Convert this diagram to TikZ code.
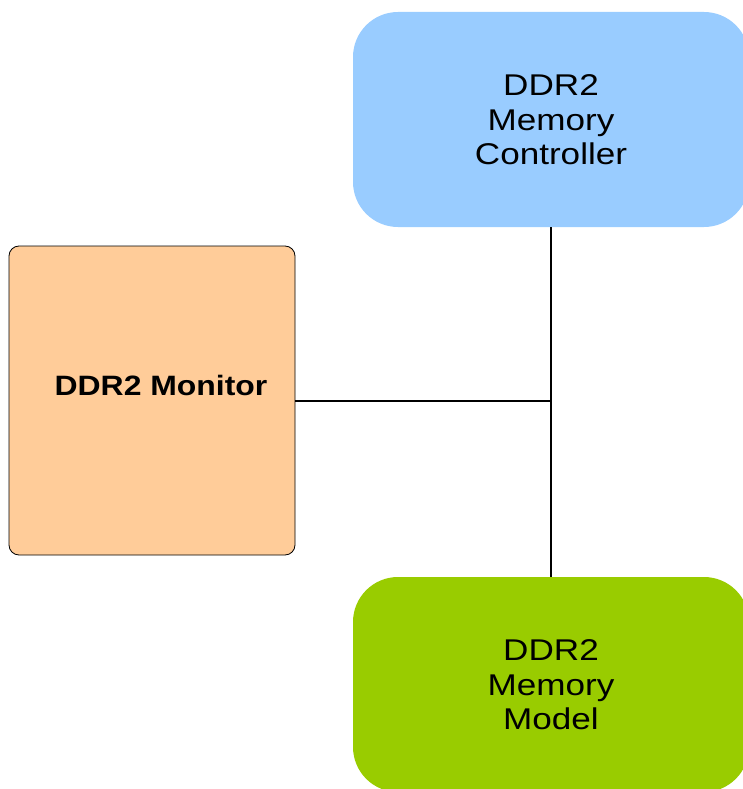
\documentclass[tikz,border=0pt]{standalone}
\usepackage{fontspec}
\setmainfont{Liberation Sans}
\usepackage{graphicx}
\usepackage{tikz}
\usetikzlibrary{positioning}

\definecolor{ctrlblue}{HTML}{99CCFF}
\definecolor{monorange}{HTML}{FFCC99}
\definecolor{modelgreen}{HTML}{99CC00}

\newcommand{\widetext}[2]{\raisebox{-4pt}[\height][\depth]{\scalebox{#1}[1]{\begin{tabular}{@{}c@{}}#2\end{tabular}}}}

\tikzset{
  bigblock/.style={rectangle, rounded corners=45pt, inner sep=0pt,
    minimum width=396pt, minimum height=215pt, align=center,
    font=\fontsize{30}{34.5}\selectfont},
  monblock/.style={rectangle, rounded corners=10pt, draw=black, line width=0.8pt,
    fill=monorange, minimum width=286pt, minimum height=309pt, inner sep=0pt},
  bus/.style={line width=2pt}
}

\begin{document}
\begin{tikzpicture}[x=1pt,y=-1pt]
  \useasboundingbox (0,0) rectangle (743,789);
  \clip (0,0) rectangle (743,789);
  \node[bigblock, fill=ctrlblue] (ctrl) at (551,119.5) {\widetext{1.17}{DDR2\\Memory\\Controller}};
  \node[monblock] (mon) at (152,400.5) {};
  \node[font=\fontsize{28}{32}\selectfont\bfseries] (monlabel) at (161,385) {\widetext{1.14}{DDR2 Monitor}};
  \node[bigblock, fill=modelgreen] (model) at (551,684.5) {\widetext{1.17}{DDR2\\Memory\\Model}};
  \draw[bus] (ctrl.south) -- (model.north);
  \draw[bus] (mon.east) -- (mon.east -| ctrl.south);
\end{tikzpicture}
\end{document}
